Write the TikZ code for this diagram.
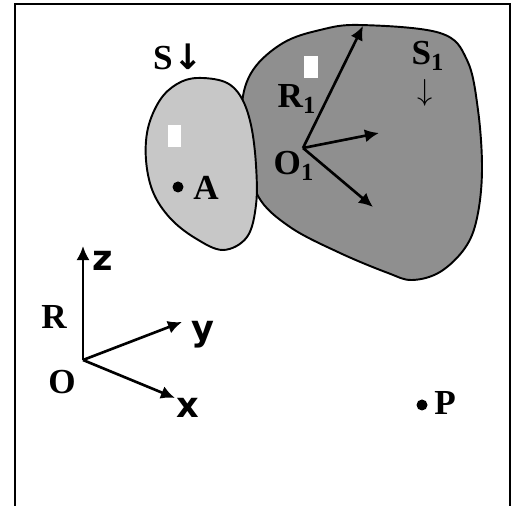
\documentclass[tikz,border=0pt]{standalone}
\usepackage{fontspec}
\setmainfont{Liberation Serif}
\newfontfamily\axisfont{DejaVu Sans}
\usetikzlibrary{arrows.meta}
\tikzset{
  lab/.style={font=\bfseries\fontsize{20}{24}\selectfont, inner sep=1pt},
  axlab/.style={font=\axisfont\bfseries\fontsize{20}{24}\selectfont, inner sep=1pt},
  vec/.style={line width=1.5pt, -{Latex[length=8pt,width=7.5pt]}},
  blob/.style={draw, line width=1.1pt},
}
\begin{document}
\begin{tikzpicture}[x=0.02cm, y=-0.02cm]
    \useasboundingbox (0,0) rectangle (518,506);
    % Frame, open at the bottom
    \draw[line width=1.6pt] (15,506) -- (15,4) -- (510,4) -- (510,506);
    % Body S1 (dark), drawn first
    \draw[blob, fill=black!44] plot[smooth cycle, tension=0.6] coordinates {
      (360,25) (440,33) (467,60) (478,110) (482,170) (477,218) (465,248)
      (440,272) (412,280) (388,273) (340,253) (290,227) (258,196)
      (248,150) (242,105) (253,70) (283,43) (320,30)};
    \fill[white] (304,56) rectangle (318,78);
    % Body S (light), on top
    \draw[blob, fill=black!22] plot[smooth cycle, tension=0.6] coordinates {
      (197,78) (225,82) (241,97) (251,125) (256,165) (256,205) (247,237)
      (223,250) (195,238) (170,218) (153,192) (146,160) (148,128)
      (160,100) (177,84)};
    \fill[white] (168,125) rectangle (181,147);
    % Labels of the bodies
    \node[lab] (S) at (163,58) {S};
    \node[axlab] (Sarrow) at (188,57) {↓};
    \node[lab] (S1) at (428,56) {S\textsubscript{1}};
    \node[lab, font=\fontsize{16}{20}\selectfont] (S1arrow) at (425,93) {$\downarrow$};
    % Point A
    \fill (178,187) circle (5.5);
    \node[lab] (A) at (206,188) {A};
    % Frame R1 at O1
    \coordinate (O1) at (303,148);
    \coordinate (e1) at (363,26);
    \coordinate (e2) at (379,133);
    \coordinate (e3) at (373,207);
    \draw[vec] (O1) -- (e1);
    \draw[vec] (O1) -- (e2);
    \draw[vec] (O1) -- (e3);
    \node[lab] (R1) at (297,99) {R\textsubscript{1}};
    \node[lab] (O1lab) at (294,166) {O\textsubscript{1}};
    % Frame R at O
    \coordinate (O) at (83,360);
    \coordinate (z) at (83,246);
    \coordinate (y) at (182,322);
    \coordinate (x) at (175,398);
    \draw[vec] (O) -- (z);
    \draw[vec] (O) -- (y);
    \draw[vec] (O) -- (x);
    \node[axlab] (zlab) at (103,261) {z};
    \node[axlab] (ylab) at (203,335) {y};
    \node[axlab] (xlab) at (188,408) {x};
    \node[lab] (R) at (54,317) {R};
    \node[lab] (Olab) at (62,382) {O};
    % Point P
    \fill (422,405) circle (5.5);
    \node[lab] (P) at (445,403) {P};
\end{tikzpicture}
\end{document}
